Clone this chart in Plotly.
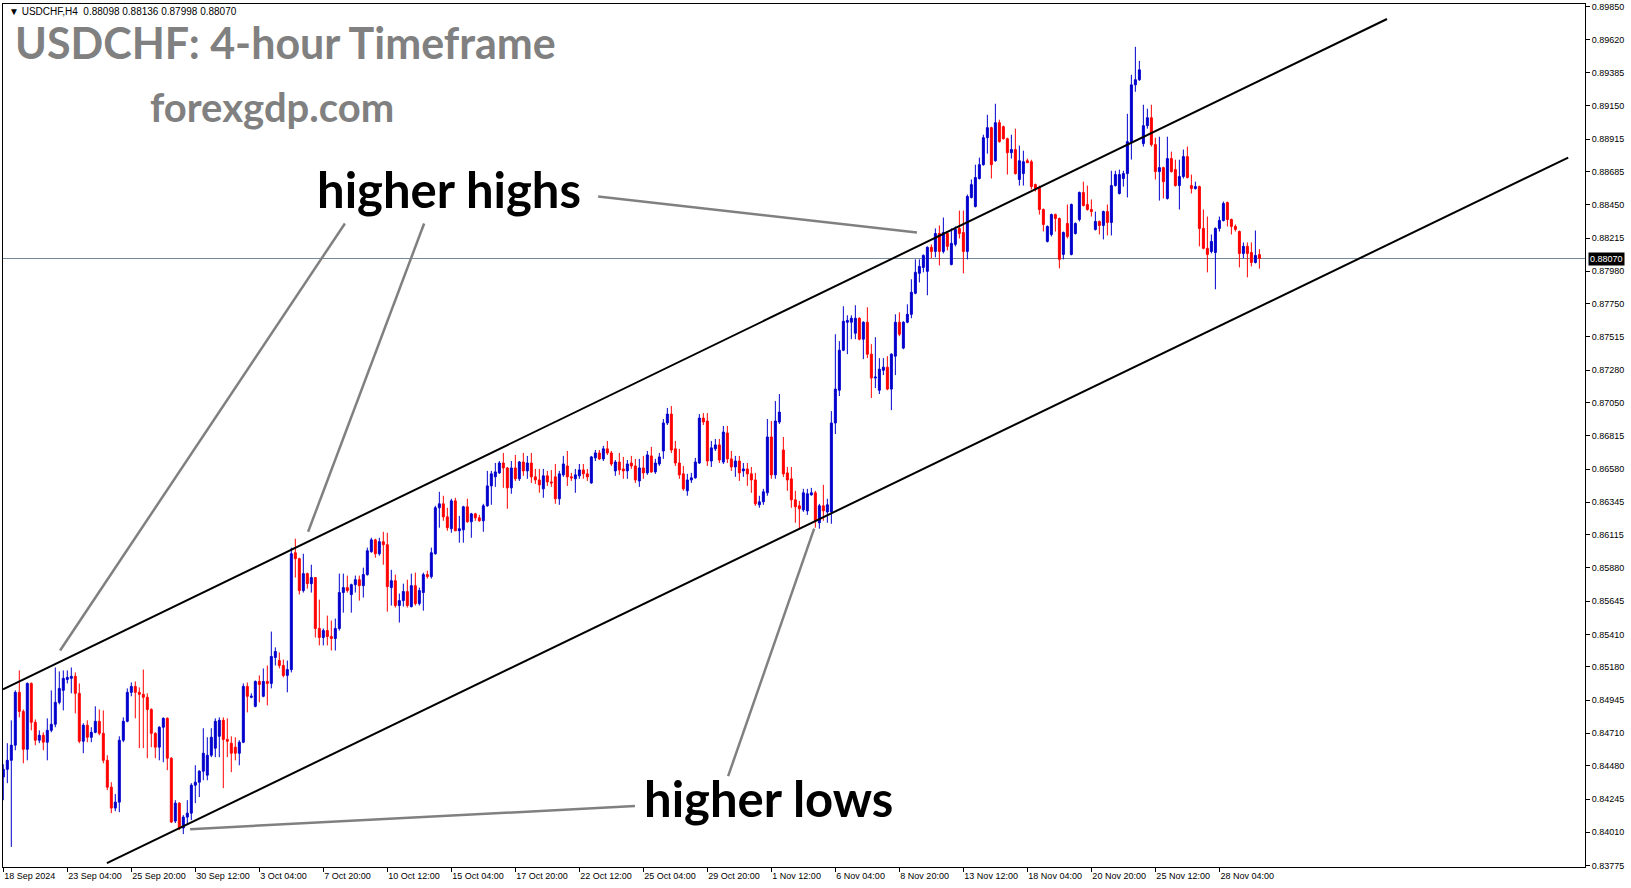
import plotly.graph_objects as go

# ---------------- data (USDCHF H4) ----------------
open_ = [
0.84400,0.84455,0.84519,0.84626,0.85000,0.84865,0.84597,0.85063,0.84788,0.84661,
0.84696,0.84647,0.84731,0.84774,0.84929,0.85014,0.85091,0.85099,0.85113,0.84993,
0.84654,0.84767,0.84682,0.84717,0.84795,0.84710,0.84519,0.84329,0.84181,0.84223,
0.84661,0.84795,0.85000,0.85042,0.85000,0.84986,0.84965,0.84879,0.84710,0.84612,
0.84753,0.84816,0.84534,0.84089,0.84216,0.84040,0.84117,0.84145,0.84343,0.84364,
0.84442,0.84414,0.84555,0.84605,0.84689,0.84802,0.84667,0.84640,0.84612,0.84569,
0.84647,0.85042,0.84965,0.84901,0.85077,0.84972,0.85077,0.85063,0.85247,0.85225,
0.85190,0.85120,0.85161,0.85988,0.85946,0.85720,0.85840,0.85769,0.85812,0.85452,
0.85388,0.85437,0.85395,0.85381,0.85452,0.85706,0.85741,0.85692,0.85762,0.85797,
0.85755,0.85833,0.85995,0.86079,0.85981,0.86066,0.86045,0.85741,0.85790,0.85614,
0.85649,0.85713,0.85607,0.85755,0.85628,0.85706,0.85833,0.85819,0.85981,0.86306,
0.86334,0.86242,0.86158,0.86355,0.86143,0.86150,0.86313,0.86207,0.86263,0.86235,
0.86214,0.86320,0.86461,0.86525,0.86553,0.86623,0.86588,0.86447,0.86588,0.86511,
0.86630,0.86567,0.86623,0.86525,0.86503,0.86440,0.86532,0.86489,0.86525,0.86370,
0.86539,0.86602,0.86525,0.86511,0.86532,0.86574,0.86546,0.86482,0.86659,0.86694,
0.86652,0.86723,0.86694,0.86567,0.86630,0.86581,0.86567,0.86623,0.86602,0.86496,
0.86588,0.86553,0.86673,0.86560,0.86616,0.86708,0.86906,0.86969,0.86723,0.86623,
0.86546,0.86426,0.86503,0.86518,0.86623,0.86941,0.86920,0.86637,0.86723,0.86751,
0.86630,0.86835,0.86652,0.86595,0.86637,0.86567,0.86581,0.86546,0.86503,0.86327,
0.86348,0.86412,0.86807,0.86539,0.86913,0.86715,0.86553,0.86511,0.86362,0.86320,
0.86291,0.86284,0.86398,0.86412,0.86200,0.86320,0.86277,0.86277,0.86906,0.87138,
0.87421,0.87619,0.87619,0.87541,0.87647,0.87499,0.87619,0.87393,0.87224,0.87138,
0.87279,0.87301,0.87146,0.87379,0.87619,0.87436,0.87619,0.87675,0.87824,0.87965,
0.88007,0.87979,0.88149,0.88120,0.88247,0.88120,0.88247,0.88028,0.88170,0.88283,
0.88254,0.88120,0.88502,0.88438,0.88636,0.88734,0.88925,0.88996,0.88762,0.89031,
0.89003,0.88918,0.88819,0.88841,0.88629,0.88671,0.88762,0.88755,0.88593,0.88572,
0.88417,0.88191,0.88240,0.88381,0.88353,0.88099,0.88318,0.88099,0.88247,0.88346,
0.88537,0.88452,0.88417,0.88276,0.88332,0.88304,0.88402,0.88325,0.88586,0.88530,
0.88636,0.88671,0.88897,0.89299,0.89335,0.88883,0.89010,0.89066,0.88876,0.88685,
0.88713,0.88495,0.88777,0.88699,0.88586,0.88650,0.88791,0.88586,0.88565,0.88579,
0.88283,0.88142,0.88120,0.88113,0.88283,0.88339,0.88466,0.88346,0.88297,0.88261,
0.88106,0.88156,0.88113,0.88042,0.88098]

high = [
0.84491,0.84640,0.84802,0.85014,0.85155,0.84879,0.85070,0.85070,0.84808,0.84731,
0.84717,0.84816,0.85014,0.85176,0.85148,0.85155,0.85155,0.85176,0.85141,0.85063,
0.84781,0.84802,0.84753,0.84901,0.84879,0.84872,0.84555,0.84364,0.84280,0.84689,
0.84823,0.85028,0.85070,0.85077,0.85035,0.85161,0.84993,0.84887,0.84717,0.84760,
0.84823,0.84823,0.84541,0.84237,0.84223,0.84131,0.84237,0.84357,0.84484,0.84449,
0.84746,0.84682,0.84746,0.84816,0.84823,0.84823,0.84816,0.84689,0.84682,0.84661,
0.85063,0.85070,0.84993,0.85084,0.85120,0.85169,0.85190,0.85430,0.85318,0.85282,
0.85232,0.85225,0.86024,0.86087,0.85953,0.85981,0.85847,0.85903,0.85812,0.85656,
0.85452,0.85543,0.85508,0.85522,0.85840,0.85840,0.85826,0.85769,0.85826,0.85826,
0.85882,0.86024,0.86094,0.86087,0.86094,0.86136,0.86129,0.85867,0.85833,0.85699,
0.85769,0.85797,0.85840,0.85847,0.85741,0.85847,0.85861,0.86024,0.86320,0.86419,
0.86391,0.86306,0.86370,0.86377,0.86249,0.86320,0.86370,0.86270,0.86270,0.86256,
0.86334,0.86567,0.86567,0.86623,0.86637,0.86694,0.86595,0.86637,0.86680,0.86637,
0.86694,0.86673,0.86694,0.86581,0.86581,0.86581,0.86567,0.86573,0.86616,0.86567,
0.86673,0.86708,0.86553,0.86581,0.86616,0.86616,0.86581,0.86673,0.86715,0.86715,
0.86744,0.86779,0.86708,0.86644,0.86694,0.86666,0.86644,0.86673,0.86652,0.86652,
0.86673,0.86708,0.86737,0.86652,0.86694,0.86934,0.87012,0.87026,0.86779,0.86723,
0.86602,0.86546,0.86553,0.86659,0.86969,0.86976,0.86976,0.86779,0.86793,0.86793,
0.86885,0.86885,0.86708,0.86673,0.86673,0.86623,0.86623,0.86595,0.86553,0.86391,
0.86440,0.86934,0.86920,0.87061,0.87111,0.86807,0.86595,0.86595,0.86426,0.86355,
0.86440,0.86440,0.86447,0.86426,0.86334,0.86468,0.86370,0.86990,0.87534,0.87485,
0.87732,0.87668,0.87668,0.87739,0.87654,0.87626,0.87725,0.87464,0.87513,0.87365,
0.87365,0.87379,0.87400,0.87675,0.87689,0.87626,0.87746,0.87923,0.88064,0.88064,
0.88099,0.88156,0.88170,0.88283,0.88304,0.88360,0.88254,0.88283,0.88297,0.88409,
0.88409,0.88523,0.88629,0.88734,0.88784,0.88946,0.89087,0.89003,0.89165,0.89052,
0.89010,0.88925,0.88946,0.88989,0.88869,0.88833,0.88777,0.88769,0.88600,0.88586,
0.88424,0.88304,0.88388,0.88388,0.88360,0.88261,0.88452,0.88459,0.88325,0.88544,
0.88614,0.88586,0.88488,0.88402,0.88339,0.88409,0.88452,0.88691,0.88691,0.88699,
0.88691,0.89094,0.89370,0.89568,0.89468,0.89158,0.89130,0.89158,0.88925,0.88932,
0.88720,0.88932,0.88826,0.88769,0.88769,0.88841,0.88862,0.88664,0.88614,0.88586,
0.88417,0.88367,0.88240,0.88290,0.88367,0.88473,0.88473,0.88353,0.88311,0.88268,
0.88184,0.88184,0.88184,0.88268,0.88136]

low = [
0.84237,0.84357,0.83906,0.84590,0.84823,0.84498,0.84519,0.84731,0.84626,0.84640,
0.84590,0.84519,0.84717,0.84753,0.84915,0.84872,0.85063,0.84993,0.84851,0.84640,
0.84569,0.84647,0.84647,0.84710,0.84696,0.84498,0.84308,0.84145,0.84159,0.84152,
0.84647,0.84788,0.84972,0.84816,0.84605,0.84605,0.84534,0.84612,0.84534,0.84519,
0.84505,0.84449,0.84075,0.84075,0.84025,0.83997,0.84061,0.84096,0.84216,0.84259,
0.84378,0.84378,0.84541,0.84541,0.84541,0.84322,0.84541,0.84435,0.84519,0.84484,
0.84640,0.84858,0.84958,0.84894,0.84929,0.84965,0.84908,0.85028,0.85190,0.85169,
0.85106,0.85000,0.85141,0.85812,0.85692,0.85706,0.85734,0.85706,0.85388,0.85332,
0.85332,0.85332,0.85296,0.85296,0.85437,0.85564,0.85706,0.85564,0.85706,0.85649,
0.85671,0.85826,0.85988,0.85953,0.85967,0.85903,0.85571,0.85614,0.85600,0.85494,
0.85607,0.85600,0.85600,0.85614,0.85614,0.85578,0.85805,0.85805,0.85974,0.86165,
0.86214,0.86143,0.86129,0.86143,0.86059,0.86059,0.86200,0.86094,0.86214,0.86207,
0.86136,0.86313,0.86327,0.86454,0.86546,0.86447,0.86299,0.86405,0.86496,0.86496,
0.86532,0.86511,0.86482,0.86475,0.86412,0.86377,0.86461,0.86454,0.86334,0.86327,
0.86525,0.86461,0.86496,0.86412,0.86511,0.86511,0.86496,0.86475,0.86637,0.86644,
0.86637,0.86680,0.86602,0.86532,0.86539,0.86511,0.86511,0.86581,0.86482,0.86454,
0.86511,0.86539,0.86553,0.86546,0.86602,0.86652,0.86892,0.86694,0.86602,0.86511,
0.86426,0.86391,0.86482,0.86511,0.86616,0.86892,0.86602,0.86595,0.86708,0.86623,
0.86616,0.86623,0.86567,0.86525,0.86496,0.86525,0.86461,0.86412,0.86320,0.86306,
0.86327,0.86391,0.86511,0.86511,0.86899,0.86525,0.86426,0.86306,0.86200,0.86158,
0.86277,0.86256,0.86391,0.86165,0.86158,0.86214,0.86200,0.86193,0.86828,0.87097,
0.87414,0.87393,0.87499,0.87499,0.87491,0.87358,0.87365,0.87083,0.87153,0.87111,
0.87245,0.87138,0.86997,0.87245,0.87520,0.87428,0.87612,0.87647,0.87817,0.87901,
0.87972,0.87810,0.88071,0.88078,0.88021,0.88106,0.88127,0.88021,0.88156,0.88212,
0.87965,0.88064,0.88495,0.88431,0.88629,0.88727,0.88812,0.88636,0.88755,0.88890,
0.88911,0.88664,0.88777,0.88664,0.88586,0.88586,0.88748,0.88558,0.88544,0.88381,
0.88261,0.88184,0.88226,0.88261,0.88000,0.88064,0.88212,0.88092,0.88240,0.88332,
0.88438,0.88409,0.88367,0.88268,0.88240,0.88205,0.88233,0.88233,0.88579,0.88523,
0.88579,0.88502,0.88770,0.89250,0.89327,0.88862,0.88989,0.88862,0.88629,0.88480,
0.88495,0.88487,0.88678,0.88579,0.88417,0.88636,0.88636,0.88530,0.88558,0.88156,
0.88135,0.87972,0.88106,0.87852,0.88261,0.88332,0.88297,0.88240,0.88261,0.88007,
0.88071,0.87937,0.88014,0.88035,0.87998]

close = [
0.84455,0.84519,0.84626,0.85000,0.84865,0.84597,0.85063,0.84788,0.84661,0.84696,
0.84647,0.84731,0.84774,0.84929,0.85028,0.85099,0.85106,0.85113,0.84993,0.84654,
0.84767,0.84682,0.84717,0.84795,0.84710,0.84519,0.84329,0.84181,0.84223,0.84661,
0.84795,0.85000,0.85042,0.85000,0.84986,0.84965,0.84879,0.84710,0.84612,0.84753,
0.84816,0.84534,0.84082,0.84216,0.84040,0.84117,0.84145,0.84343,0.84364,0.84442,
0.84569,0.84555,0.84682,0.84795,0.84802,0.84667,0.84654,0.84569,0.84569,0.84647,
0.85042,0.84972,0.84972,0.85077,0.85056,0.85077,0.85063,0.85254,0.85289,0.85190,
0.85120,0.85161,0.85981,0.85946,0.85720,0.85840,0.85769,0.85812,0.85452,0.85388,
0.85437,0.85395,0.85381,0.85452,0.85706,0.85741,0.85720,0.85762,0.85797,0.85755,
0.85833,0.86002,0.86079,0.85981,0.86066,0.86045,0.85748,0.85790,0.85614,0.85649,
0.85713,0.85614,0.85755,0.85628,0.85720,0.85833,0.85819,0.85988,0.86306,0.86334,
0.86242,0.86165,0.86355,0.86143,0.86158,0.86313,0.86207,0.86263,0.86235,0.86214,
0.86320,0.86461,0.86546,0.86560,0.86623,0.86588,0.86447,0.86588,0.86511,0.86630,
0.86567,0.86623,0.86525,0.86503,0.86468,0.86532,0.86489,0.86482,0.86370,0.86546,
0.86616,0.86525,0.86518,0.86539,0.86574,0.86546,0.86525,0.86666,0.86694,0.86652,
0.86723,0.86694,0.86616,0.86630,0.86574,0.86567,0.86616,0.86602,0.86503,0.86588,
0.86553,0.86680,0.86560,0.86623,0.86666,0.86906,0.86969,0.86715,0.86623,0.86539,
0.86440,0.86503,0.86518,0.86630,0.86941,0.86913,0.86637,0.86730,0.86751,0.86644,
0.86842,0.86652,0.86595,0.86637,0.86553,0.86581,0.86546,0.86503,0.86334,0.86348,
0.86419,0.86807,0.86539,0.86920,0.86983,0.86546,0.86503,0.86362,0.86313,0.86299,
0.86412,0.86405,0.86412,0.86214,0.86320,0.86284,0.86327,0.86906,0.87146,0.87421,
0.87626,0.87632,0.87647,0.87647,0.87499,0.87619,0.87393,0.87224,0.87231,0.87287,
0.87301,0.87146,0.87393,0.87619,0.87534,0.87619,0.87675,0.87831,0.87972,0.88014,
0.88092,0.88149,0.88120,0.88247,0.88120,0.88254,0.88156,0.88177,0.88276,0.88247,
0.88120,0.88509,0.88593,0.88643,0.88734,0.88925,0.88996,0.88734,0.89031,0.88897,
0.88918,0.88819,0.88841,0.88671,0.88762,0.88755,0.88748,0.88579,0.88565,0.88417,
0.88311,0.88297,0.88381,0.88353,0.88064,0.88254,0.88226,0.88452,0.88318,0.88537,
0.88445,0.88417,0.88402,0.88332,0.88304,0.88402,0.88325,0.88586,0.88664,0.88664,
0.88671,0.88897,0.89299,0.89335,0.89405,0.89010,0.89066,0.88876,0.88685,0.88713,
0.88614,0.88777,0.88685,0.88586,0.88650,0.88791,0.88643,0.88565,0.88579,0.88283,
0.88142,0.88099,0.88191,0.88283,0.88339,0.88459,0.88346,0.88297,0.88276,0.88106,
0.88156,0.88106,0.88042,0.88092,0.88070]

x_tick_labels = ["18 Sep 2024", "23 Sep 04:00", "25 Sep 20:00", "30 Sep 12:00",
                 "3 Oct 04:00", "7 Oct 20:00", "10 Oct 12:00", "15 Oct 04:00",
                 "17 Oct 20:00", "22 Oct 12:00", "25 Oct 04:00", "29 Oct 20:00",
                 "1 Nov 12:00", "6 Nov 04:00", "8 Nov 20:00", "13 Nov 12:00",
                 "18 Nov 04:00", "20 Nov 20:00", "25 Nov 12:00", "28 Nov 04:00"]
bars_per_label = 16

y_tick_values = [0.89850, 0.89620, 0.89385, 0.89150, 0.88915, 0.88685, 0.88450,
                 0.88215, 0.87980, 0.87750, 0.87515, 0.87280, 0.87050, 0.86815,
                 0.86580, 0.86345, 0.86115, 0.85880, 0.85645, 0.85410, 0.85180,
                 0.84945, 0.84710, 0.84480, 0.84245, 0.84010, 0.83775]

last_price = 0.88070
header_ohlc = "0.88098 0.88136 0.87998 0.88070"

# channel trend lines: (bar index, price) endpoints
upper_channel_x = [-0.075, 345.9]
upper_channel_y = [0.85021, 0.89765]
lower_channel_x = [25.9, 391.2]
lower_channel_y = [0.83792, 0.88784]

# grey pointer lines: (x0, y0, x1, y1) in bar index / price
pointer_x0 = [14.2, 76.2, 148.7, 46.7, 181.2]
pointer_y0 = [0.85296, 0.86136, 0.88509, 0.84032, 0.84407]
pointer_x1 = [85.4, 105.2, 228.4, 157.9, 202.7]
pointer_y1 = [0.88318, 0.88318, 0.88254, 0.84195, 0.86158]

label_text = ["higher highs", "higher lows"]
label_x = [111.4, 191.2]
label_y = [0.88544, 0.84230]

# ---------------- figure ----------------
bar_index = list(range(len(close)))

fig = go.Figure()
fig.add_trace(go.Candlestick(
    x=bar_index, open=open_, high=high, low=low, close=close,
    increasing=dict(line=dict(color="#0000CD", width=1), fillcolor="#0000CD"),
    decreasing=dict(line=dict(color="#FF0000", width=1), fillcolor="#FF0000"),
    whiskerwidth=0, showlegend=False, hoverinfo="skip"))

shapes = []
shapes.append(dict(type="line", xref="paper", yref="y", x0=0, x1=1,
                   y0=last_price, y1=last_price,
                   line=dict(color="#778899", width=1), layer="below"))
shapes.append(dict(type="line", xref="x", yref="y",
                   x0=upper_channel_x[0], y0=upper_channel_y[0],
                   x1=upper_channel_x[1], y1=upper_channel_y[1],
                   line=dict(color="black", width=2)))
shapes.append(dict(type="line", xref="x", yref="y",
                   x0=lower_channel_x[0], y0=lower_channel_y[0],
                   x1=lower_channel_x[1], y1=lower_channel_y[1],
                   line=dict(color="black", width=2)))
for a, b, c, d in zip(pointer_x0, pointer_y0, pointer_x1, pointer_y1):
    shapes.append(dict(type="line", xref="x", yref="y", x0=a, y0=b, x1=c, y1=d,
                       line=dict(color="#808080", width=2.5)))

annotations = []
annotations.append(dict(xref="paper", yref="paper", x=0.0025, y=0.991,
                        xanchor="left", yanchor="middle", showarrow=False,
                        text="\u25BC USDCHF,H4  " + header_ohlc,
                        font=dict(family="Liberation Sans", size=10, color="black")))
annotations.append(dict(xref="paper", yref="paper", x=0.0063, y=0.9514, yshift=3,
                        xanchor="left", yanchor="middle", showarrow=False,
                        text="<b>USDCHF: 4-hour Timeframe</b>",
                        font=dict(family="Lato", size=43, color="#808080")))
annotations.append(dict(xref="paper", yref="paper", x=0.0915, y=0.8775, yshift=3,
                        xanchor="left", yanchor="middle", showarrow=False,
                        text="<b>forexgdp.com</b>",
                        font=dict(family="Lato", size=40, color="#808080")))
for t, lx, ly in zip(label_text, label_x, label_y):
    annotations.append(dict(xref="x", yref="y", x=lx, y=ly, yshift=3, showarrow=False,
                            xanchor="center", yanchor="middle",
                            text="<b>" + t + "</b>",
                            font=dict(family="Lato", size=49, color="black")))
annotations.append(dict(xref="paper", yref="y", x=1, y=last_price, xshift=3,
                        xanchor="left", yanchor="middle", showarrow=False,
                        text="%.5f" % last_price, bgcolor="black", borderpad=1,
                        font=dict(family="Liberation Sans", size=9, color="white")))

fig.update_layout(
    width=1631, height=888, autosize=False,
    margin=dict(l=3, r=46, t=2, b=21, pad=0),
    paper_bgcolor="white", plot_bgcolor="white",
    shapes=shapes, annotations=annotations, showlegend=False,
    xaxis=dict(range=[-0.075, 395.4], showgrid=False, zeroline=False,
               showline=True, linecolor="black", linewidth=1, mirror=True,
               ticks="outside", ticklen=4, tickcolor="black",
               tickvals=[i * bars_per_label for i in range(len(x_tick_labels))],
               ticktext=x_tick_labels, ticklabelposition="outside right",
               tickfont=dict(family="Liberation Sans", size=9, color="black"),
               rangeslider=dict(visible=False), fixedrange=True),
    yaxis=dict(range=[0.83764, 0.89871], side="right", showgrid=False,
               zeroline=False, showline=True, linecolor="black", linewidth=1,
               mirror=True, ticks="outside", ticklen=4, tickcolor="black",
               tickvals=y_tick_values, ticktext=["%.5f" % v for v in y_tick_values],
               tickfont=dict(family="Liberation Sans", size=9, color="black"),
               fixedrange=True),
)

fig.write_html("out.html", config={"displayModeBar": False},
               post_script="document.body.style.margin='0';")
